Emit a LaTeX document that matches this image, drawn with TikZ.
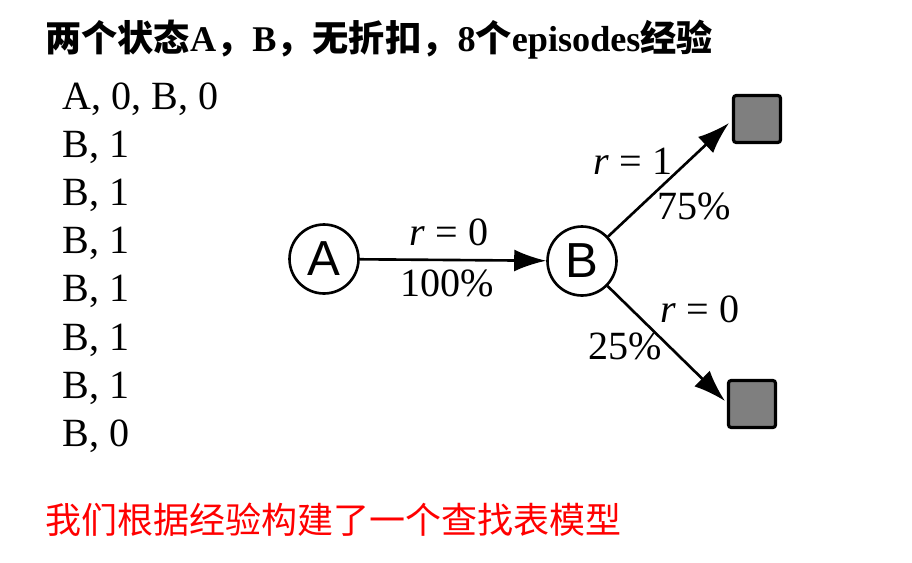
\documentclass[tikz,border=0pt]{standalone}
\usepackage{fontspec}
\setmainfont{Liberation Serif}
\setsansfont{Liberation Sans}
\newfontfamily\cjk{Noto Sans CJK SC}
\usetikzlibrary{arrows.meta}
\definecolor{termColor}{HTML}{7F7F7F}
\newcommand{\zh}[1]{{\cjk #1}}

\begin{document}
\begin{tikzpicture}[x=0.02cm,y=-0.02cm,
      state/.style={circle,draw,line width=1.5pt,fill=white,minimum size=1.38cm,inner sep=0pt,font=\sffamily\fontsize{28}{30}\selectfont},
      term/.style={draw,line width=1.8pt,fill=termColor,rounded corners=1.5pt,minimum size=0.94cm,inner sep=0pt},
      edge/.style={-{Latex[length=6.4mm,width=4.4mm]},line width=1.5pt},
      lab/.style={font=\fontsize{22.8}{27}\selectfont,inner sep=0pt},
      >=Latex
    ]
    \useasboundingbox (0,0) rectangle (912,562);
    % title and episodes
    \node[anchor=base west,inner sep=0pt,font=\bfseries\fontsize{20.6}{24}\selectfont] (title) at (45,51)
      {\zh{两个状态}A\zh{，}B\zh{，无折扣，}8\zh{个}episodes\zh{经验}};
    \foreach \t [count=\i from 0] in {{A, 0, B, 0},{B, 1},{B, 1},{B, 1},{B, 1},{B, 1},{B, 1},{B, 0}}{
      \node[lab,anchor=base west] (ep\i) at (62,{109+48.2*\i}) {\t};
    }
    % model
    \node[state] (A) at (324,259) {A};
    \node[state] (B) at (582,261) {B};
    \node[term] (t1) at (757,119) {};
    \node[term] (t0) at (752,404) {};
    \coordinate (t1tip) at (729,123);
    \coordinate (t0tip) at (725,401);
    \draw[edge] (A) -- (B);
    \draw[edge] (B) -- (t1tip);
    \draw[edge] (B) -- (t0tip);
    \node[lab] (rAB) at (449,232) {\textit{r} = 0};
    \node[lab] (pAB) at (447,283) {100\%};
    \node[lab] (r1) at (633,161) {\textit{r} = 1};
    \node[lab] (p1) at (694,206) {75\%};
    \node[lab] (r0) at (700,309) {\textit{r} = 0};
    \node[lab] (p0) at (625,346) {25\%};
    \node[anchor=base west,inner sep=0pt,text=red,font=\cjk\fontsize{20.5}{24}\selectfont] (note) at (45,533)
      {我们根据经验构建了一个查找表模型};
  \end{tikzpicture}
\end{document}
